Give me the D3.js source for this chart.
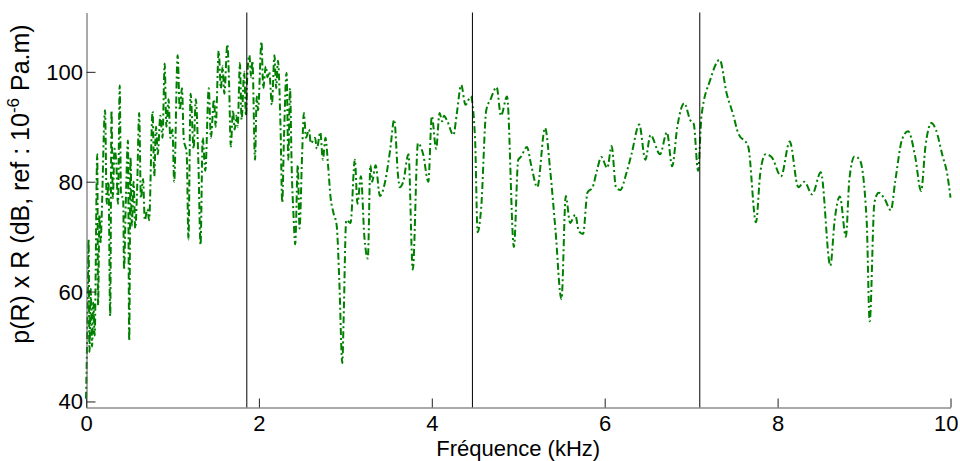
<!DOCTYPE html>
<html>
<head>
<meta charset="utf-8">
<script src="https://cdn.jsdelivr.net/npm/d3@7"></script>
<style>
  html, body { margin: 0; padding: 0; background: #fff; }
  svg { display: block; }
  text { font-family: Arial, "Liberation Sans", Helvetica, sans-serif; fill: #000; }
</style>
</head>
<body>
<svg id="chart" width="960" height="461"></svg>
<script>
// ---- data ----
const freq = [
  0.00,0.02,0.03,0.04,0.055,0.07,0.085,0.10,0.13,0.14,0.155,0.17,0.18,0.22,0.24,0.26,0.28,0.295,0.31,0.33,
  0.35,0.37,0.39,0.405,0.43,0.44,0.46,0.485,0.50,0.515,0.53,0.55,0.57,0.59,0.615,0.635,0.66,0.68,0.71,0.73,
  0.77,0.79,0.81,0.83,0.86,0.885,0.91,0.93,0.955,0.975,1.00,1.02,1.06,1.085,1.11,1.13,1.165,1.185,1.21,1.245,
  1.27,1.30,1.325,1.35,1.38,1.42,1.445,1.48,1.50,1.535,1.56,1.58,1.60,1.635,1.655,1.675,1.70,1.72,1.74,1.755,
  1.78,1.80,1.83,1.85,1.865,1.89,1.91,1.925,1.955,1.975,1.99,2.03,2.05,2.08,2.10,2.12,2.15,2.18,2.20,2.22,
  2.25,2.27,2.29,2.32,2.34,2.36,2.38,2.40,2.42,2.45,2.47,2.50,2.52,2.545,2.58,2.60,2.65,2.67,2.71,2.74,
  2.77,2.80,2.83,2.86,2.90,2.93,2.965,2.98,3.01,3.06,3.11,3.14,3.18,3.22,3.26,3.29,3.31,3.35,3.40,3.46,
  3.52,3.565,3.61,3.63,3.67,3.73,3.78,3.84,3.90,3.96,4.00,4.05,4.09,4.12,4.14,4.18,4.25,4.29,4.34,4.39,
  4.45,4.50,4.53,4.57,4.63,4.68,4.75,4.80,4.87,4.95,5.00,5.03,5.10,5.15,5.22,5.31,5.37,5.43,5.50,5.55,
  5.60,5.66,5.70,5.75,5.80,5.86,5.91,5.96,6.03,6.08,6.13,6.18,6.25,6.31,6.40,6.47,6.53,6.64,6.72,6.78,
  6.84,6.92,6.99,7.03,7.08,7.12,7.22,7.33,7.41,7.49,7.54,7.66,7.75,7.80,7.86,7.93,8.04,8.14,8.24,8.31,
  8.40,8.50,8.61,8.66,8.72,8.79,8.83,8.89,8.95,9.03,9.065,9.12,9.17,9.24,9.31,9.36,9.44,9.51,9.59,9.66,
  9.71,9.78,9.83,9.91,9.96,10.00
];
const level = [
  40.5,58,69.5,49,60.5,50,58,52,85,57.5,74,69,73,93,76,80,55.5,93,77,86,
  83.5,76,97.5,77.5,77,64,76,87.5,51,84.5,72,80,71.5,78,92.5,77,80.5,73,75,73,
  92.8,81,90,85,92,88,101.5,90,95,88,89.5,80,103,93,97,88,85,69.5,96,86,
  95,83.5,68.5,88,82,97,88,95,90,103.8,97,101,96,105,98,86.4,93,89.5,92,90,
  101.6,91.3,100,92,99,103,99,102,84,95.5,93,105.5,97,101,99,100,94,103,97,102,
  90,76.2,88,99.8,84,97,82,74,68.6,83,71.5,85,92.5,88,89.5,87,88,86,89,84,
  88,83,77,74.5,72,62,47,55,73,72.5,84,76,81,70,66,83,80,83,77.4,80,
  86,91.3,81,79,80,85,64,87,85,80,91.9,86,92.5,91,92,91,88.5,92.5,97.6,94,
  95.5,88,70.8,75,93,95,97.2,92,95.5,68.1,84,84.5,86.3,83,79,89.8,82,71.3,58.6,77.4,
  72.5,74,71,70.5,78,79,82,84.5,82.5,86.5,79,78.5,81.5,85,90.4,84,88.5,85,89,82.8,
  90,94.3,91.2,90.5,82,92,98.5,102.2,96.1,92,89,86.4,72.6,81.6,85,84.5,81,87.3,79,80,
  77.7,81.7,64.7,73,77.3,70,80.4,84.6,84,73,54.6,76.2,78,76.8,74.8,80,87.7,89.2,84.7,78.3,
  86.4,90.7,89.5,84.6,81.6,77.1
];
const markerFreqs = [1.86, 4.47, 7.10];
const xTicks = [0, 2, 4, 6, 8, 10];
const yTicks = [40, 60, 80, 100];
const xLabel = "Fréquence (kHz)";

// ---- layout ----
const svg = d3.select("#chart");
const x = d3.scaleLinear().domain([0, 10]).range([86, 950.5]);
const y = d3.scaleLinear().domain([38.9, 110.8]).range([407.5, 12.5]);

// data line
const line = d3.line()
  .x((d, i) => x(freq[i]))
  .y((d, i) => y(level[i]))
  .curve(d3.curveMonotoneX);

svg.append("path")
  .datum(level)
  .attr("d", line)
  .attr("fill", "none")
  .attr("stroke", "#008000")
  .attr("stroke-width", 2)
  .attr("stroke-dasharray", "7,3,2,3");

// vertical marker lines
svg.selectAll("line.marker")
  .data(markerFreqs)
  .enter().append("line")
  .attr("class", "marker")
  .attr("x1", d => x(d)).attr("x2", d => x(d))
  .attr("y1", y.range()[1]).attr("y2", y.range()[0])
  .attr("stroke", "#000").attr("stroke-width", 1);

// axes
const xAxis = d3.axisBottom(x).tickValues(xTicks).tickSizeInner(-9).tickSizeOuter(0).tickPadding(8)
  .tickFormat(d3.format("d"));
const yAxis = d3.axisLeft(y).tickValues(yTicks).tickSizeInner(-9).tickSizeOuter(0).tickPadding(3.5)
  .tickFormat(d3.format("d"));

const gx = svg.append("g").attr("transform", `translate(0,${407.5})`).call(xAxis);
const gy = svg.append("g").attr("transform", `translate(${86.5},0)`).call(yAxis);

[gx, gy].forEach(g => {
  g.select(".domain").attr("stroke", "#555").attr("stroke-width", 1);
  g.selectAll(".tick line").attr("stroke", "#222");
  g.selectAll(".tick text").attr("font-size", 22).attr("font-family", "Arial, 'Liberation Sans', sans-serif").attr("fill", "#000");
});
gy.selectAll(".tick text").attr("dy", "0.34em");
// last x tick label sits just inside the picture edge, as in the reference
gx.selectAll(".tick text").filter(d => d === 10).attr("text-anchor", "end").attr("x", 958 - x(10));

// axis labels
svg.append("text")
  .attr("x", (x.range()[0] + x.range()[1]) / 2).attr("y", 456)
  .attr("text-anchor", "middle")
  .attr("font-size", 22)
  .text(xLabel);

const yl = svg.append("text")
  .attr("transform", "translate(29,184) rotate(-90)")
  .attr("text-anchor", "middle")
  .attr("font-size", 25);
yl.append("tspan").text("p(R) x R (dB, ref : 10");
yl.append("tspan").attr("font-size", 17).attr("dy", -10).text("-6");
yl.append("tspan").attr("dy", 10).text(" Pa.m)");
</script>
</body>
</html>
